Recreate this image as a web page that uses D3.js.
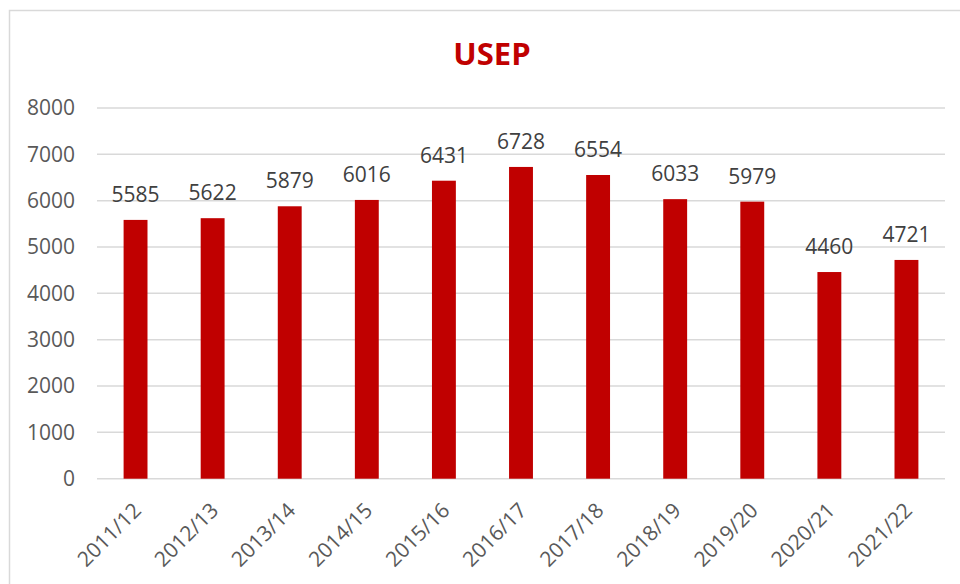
<!DOCTYPE html>
<head>
  <meta charset="utf-8" />
  <script src="https://d3js.org/d3.v7.min.js"></script>
  <style>
    body {
      margin: 0;
      background: white;
    }
    text {
      font-family: "Open Sans", sans-serif;
    }
  </style>
</head>

<body>
  <script>
    var width = 960,
      height = 584;

    // donnees
    const seasons = ["2011/12", "2012/13", "2013/14", "2014/15", "2015/16", "2016/17",
      "2017/18", "2018/19", "2019/20", "2020/21", "2021/22"];
    const values = [5585, 5622, 5879, 6016, 6431, 6728, 6554, 6033, 5979, 4460, 4721];
    const yTicks = [0, 1000, 2000, 3000, 4000, 5000, 6000, 7000, 8000];
    const title = "USEP";

    var svg = d3
      .select("body")
      .append("svg")
      .attr("width", width)
      .attr("height", height);

    // cadre du graphique
    svg.append("rect")
      .attr("x", 9.5)
      .attr("y", 10.5)
      .attr("width", 1000)
      .attr("height", 1000)
      .attr("fill", "white")
      .attr("stroke", "#d9d9d9")
      .attr("stroke-width", 1.5);

    var x = d3.scaleBand()
      .domain(seasons)
      .range([97, 945])
      .paddingInner(0.69)
      .paddingOuter(0.345);

    var y = d3.scaleLinear()
      .domain([0, 8000])
      .range([478.7, 108]);

    // grille
    svg.append("g")
      .selectAll("line")
      .data(yTicks)
      .join("line")
      .attr("x1", 97)
      .attr("x2", 945)
      .attr("y1", d => y(d))
      .attr("y2", d => y(d))
      .attr("stroke", "#d9d9d9")
      .attr("stroke-width", 1.5);

    // axe Y
    svg.append("g")
      .selectAll("text")
      .data(yTicks)
      .join("text")
      .attr("x", 75)
      .attr("y", d => y(d))
      .attr("dy", "0.35em")
      .attr("text-anchor", "end")
      .attr("font-size", 21)
      .attr("fill", "#595959")
      .text(d => d);

    // barres
    svg.append("g")
      .selectAll("rect")
      .data(values)
      .join("rect")
      .attr("x", (d, i) => x(seasons[i]))
      .attr("width", x.bandwidth())
      .attr("y", d => y(d))
      .attr("height", d => y(0) - y(d))
      .attr("fill", "#c00000");

    // etiquettes de valeurs
    svg.append("g")
      .selectAll("text")
      .data(values)
      .join("text")
      .attr("x", (d, i) => x(seasons[i]) + x.bandwidth() / 2)
      .attr("y", d => y(d) - 18)
      .attr("text-anchor", "middle")
      .attr("font-size", 21)
      .attr("fill", "#404040")
      .text(d => d);

    // axe X (etiquettes inclinees)
    svg.append("g")
      .selectAll("text")
      .data(seasons)
      .join("text")
      .attr("transform", d =>
        `translate(${x(d) + x.bandwidth() / 2 + 7},${y(0) + 33}) rotate(-45)`)
      .attr("text-anchor", "end")
      .attr("font-size", 21)
      .attr("fill", "#595959")
      .text(d => d);

    // titre
    svg.append("text")
      .attr("x", 492)
      .attr("y", 65)
      .attr("text-anchor", "middle")
      .attr("font-size", 31)
      .attr("font-weight", "bold")
      .attr("fill", "#c00000")
      .text(title);
  </script>
</body>
